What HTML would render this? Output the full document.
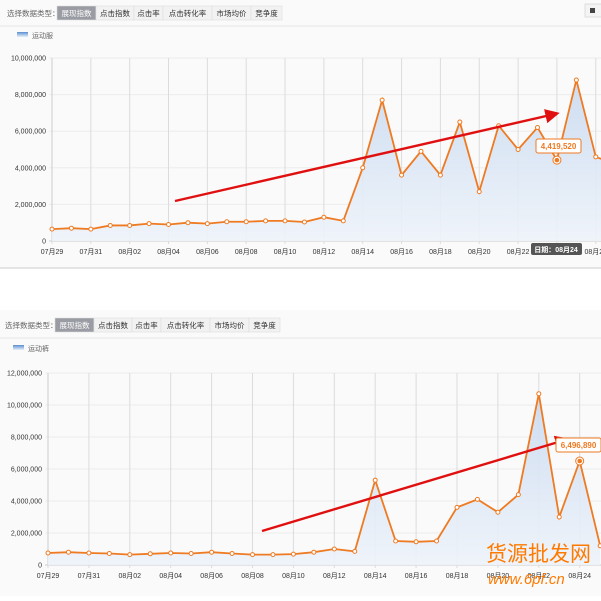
<!DOCTYPE html>
<html><head><meta charset="utf-8"><style>
body{margin:0;width:601px;height:596px;overflow:hidden;background:#fff;font-family:"Liberation Sans","Noto Sans CJK SC",sans-serif}
svg text{font-family:"Liberation Sans","Noto Sans CJK SC",sans-serif}
</style></head><body>
<svg id="s" width="601" height="596" xmlns="http://www.w3.org/2000/svg">
<defs>
<linearGradient id="g" x1="0" y1="0" x2="0" y2="1"><stop offset="0" stop-color="#c9daf0"/><stop offset="1" stop-color="#eef3fa"/></linearGradient>
<linearGradient id="lg" x1="0" y1="0" x2="0" y2="1"><stop offset="0" stop-color="#5b8fd0"/><stop offset="1" stop-color="#e8f0fa"/></linearGradient>
<marker id="ah" markerWidth="6" markerHeight="6" refX="4" refY="3" orient="auto" markerUnits="strokeWidth"><path d="M0,0 L6,3 L0,6 z" fill="#e01010"/></marker>
</defs>
<rect x="0" y="0" width="601" height="268" fill="#fafafa"/>
<line x1="0" y1="268" x2="601" y2="268" stroke="#e4e4e4" stroke-width="2"/>
<rect x="0" y="310" width="601" height="286" fill="#fafafa"/>
</svg>
<script>
const s=document.getElementById('s');
function add(h){s.insertAdjacentHTML('beforeend',h);}
function toolbar(y,x0){
 add(`<text x="${x0}" y="${y+10}" font-size="7.5" fill="#666">选择数据类型：</text>`);
 const tabs=["展现指数","点击指数","点击率","点击转化率","市场均价","竞争度"],w=[39,38,29,49,39,31];
 let x=x0+50;
 tabs.forEach((t,i)=>{add(`<rect x="${x}" y="${y}" width="${w[i]}" height="14" fill="${i?'#f2f2f2':'#9a9ca3'}" stroke="#ddd" stroke-width="0.6"/><text x="${x+w[i]/2}" y="${y+10}" font-size="7.5" text-anchor="middle" fill="${i?'#333':'#fff'}">${t}</text>`);x+=w[i];});
 add(`<line x1="0" y1="${y+20}" x2="601" y2="${y+20}" stroke="#e6e6e6"/>`);
}
function chart(o){
 const {x0,step,y0,pxPerM,ymax,ystep,vals,top,leg,ly,dates,arrow,hl,tip}=o;
 toolbar(o.ty,o.tx);
 add(`<rect x="${o.lx}" y="${ly}" width="11" height="5" fill="url(#lg)"/><text x="${o.lx+15}" y="${ly+6}" font-size="7" fill="#666">${leg}</text>`);
 for(let v=0;v<=ymax;v+=ystep){const y=y0-v*pxPerM;
  add(`<line x1="${x0-3}" y1="${y}" x2="601" y2="${y}" stroke="${v?'#ececec':'#ccc'}"/><text x="${x0-6}" y="${y+2.5}" font-size="7" text-anchor="end" fill="#333">${v?(v*1e6).toLocaleString('en-US'):'0'}</text>`);}
 for(let i=0;i<40;i+=2){const x=x0+i*step;if(x>601)break;
  add(`<line x1="${x}" y1="${top}" x2="${x}" y2="${y0+3}" stroke="#dcdcdc"/>`);
  if(dates[i/2])add(`<text x="${x}" y="${y0+13}" font-size="7" text-anchor="middle" fill="#333">${dates[i/2]}</text>`);}
 add(`<line x1="${x0}" y1="${top}" x2="${x0}" y2="${y0}" stroke="#ccc"/>`);
 const pts=vals.map((v,i)=>[x0+i*step,y0-v*pxPerM]);
 const p=pts.map(a=>a.join(',')).join(' ');
 add(`<polygon points="${x0},${y0} ${p} ${pts[pts.length-1][0]},${y0}" fill="url(#g)" opacity="0.9"/>`);
 add(`<polyline points="${p}" fill="none" stroke="#ee7a22" stroke-width="1.8"/>`);
 pts.forEach((a,i)=>add(`<circle cx="${a[0]}" cy="${a[1]}" r="${i==hl?4:2}" fill="#fff" stroke="#ee7a22" stroke-width="1"/>`+(i==hl?`<circle cx="${a[0]}" cy="${a[1]}" r="2.3" fill="#ee7a22"/>`:'')));
 add(`<line x1="${arrow[0]}" y1="${arrow[1]}" x2="${arrow[2]}" y2="${arrow[3]}" stroke="#e01010" stroke-width="2.4" marker-end="url(#ah)"/>`);
 add(`<rect x="${tip[0]}" y="${tip[1]}" width="45" height="14" rx="2" fill="#fff" stroke="#ee7a22"/><text x="${tip[0]+22.5}" y="${tip[1]+10}" font-size="8" font-weight="bold" text-anchor="middle" fill="#ee7a22">${tip[2]}</text>`);
}
const d1=["07月29","07月31","08月02","08月04","08月06","08月08","08月10","08月12","08月14","08月16","08月18","08月20","08月22","08月24","08月26"];
chart({tx:7,ty:6,lx:17,ly:32,leg:"运动服",x0:52,step:19.42,y0:241,pxPerM:18.3,ymax:10,ystep:2,top:58,dates:d1,
 vals:[.65,.7,.65,.85,.85,.95,.9,1,.95,1.05,1.05,1.1,1.1,1.04,1.3,1.1,4,7.7,3.6,4.9,3.6,6.5,2.7,6.3,5,6.2,4.42,8.8,4.6,4.2],
 arrow:[175,201,555,114],hl:26,tip:[536,139,"4,419,520"]});
add(`<rect x="531" y="243" width="51" height="12" rx="2" fill="#555"/><text x="556" y="252" font-size="7" font-weight="bold" text-anchor="middle" fill="#fff">日期：08月24</text>`);
add(`<rect x="585" y="4" width="20" height="13" fill="#f4f4f4" stroke="#ddd"/><rect x="590" y="8" width="5" height="5" fill="#444"/>`);
chart({tx:5,ty:318,lx:13,ly:345,leg:"运动裤",x0:48,step:20.45,y0:565,pxPerM:16,ymax:12,ystep:2,top:373,dates:d1,
 vals:[.75,.8,.75,.72,.65,.7,.75,.72,.8,.72,.65,.65,.68,.8,1,.85,5.3,1.5,1.45,1.5,3.6,4.1,3.3,4.4,10.7,3,6.5,1.2],
 arrow:[262,531,565,440],hl:26,tip:[556,438,"6,496,890"]});
add(`<text x="486" y="561" font-size="21" fill="#ff7a00" font-family="Noto Sans CJK SC">货源批发网</text><text x="488" y="584" font-size="15" fill="#ff7a00" font-style="italic">www.6pf.cn</text>`);
</script>
</body></html>
